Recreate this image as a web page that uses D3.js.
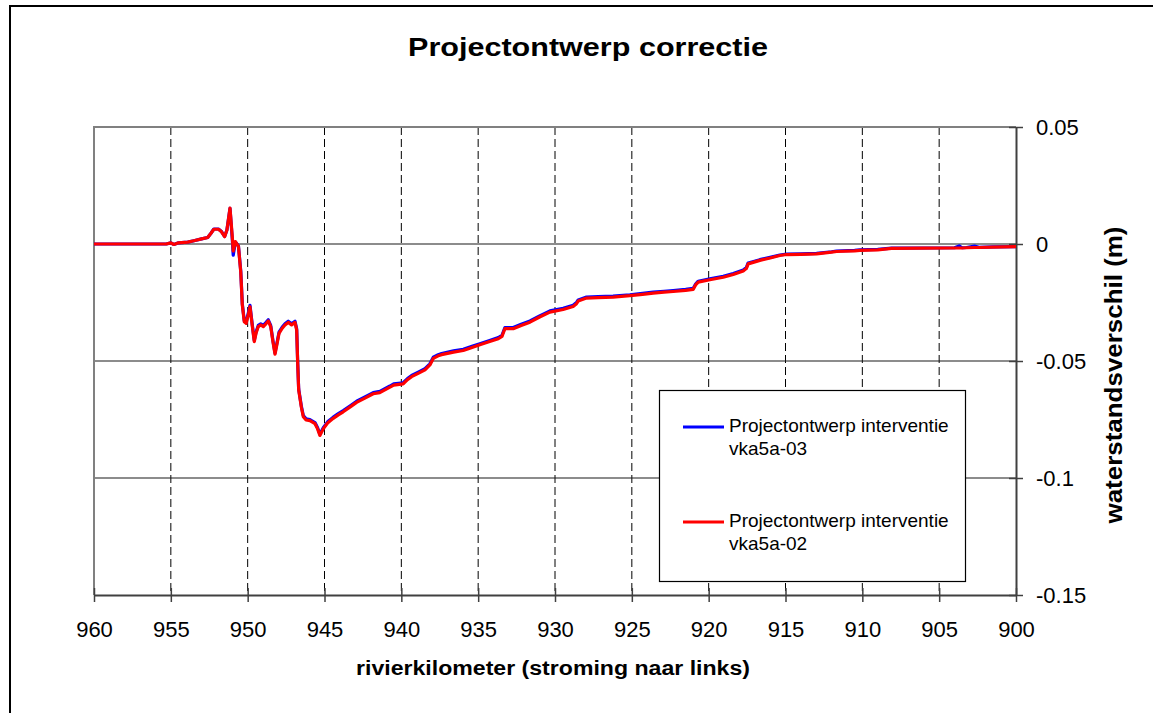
<!DOCTYPE html>
<html>
<head>
<meta charset="utf-8">
<script src="https://cdn.jsdelivr.net/npm/d3@7/dist/d3.min.js"></script>
<style>
  html, body { margin: 0; padding: 0; background: #fff; }
  svg { display: block; font-family: "Liberation Sans", Arial, sans-serif; }
</style>
</head>
<body>
<svg id="chart" width="1153" height="713"></svg>
<script>
// River kilometre positions (shared by both series)
const km = [
  960, 955.3, 955.0, 954.8, 954.5, 953.9, 953.5, 953.0, 952.6, 952.4,
  952.2, 951.9, 951.7, 951.5, 951.35, 951.15, 951.0, 950.94, 950.8, 950.6,
  950.45, 950.35, 950.22, 950.1, 949.95, 949.85, 949.7, 949.57, 949.45, 949.31,
  949.15, 948.98, 948.8, 948.66, 948.5, 948.35, 948.22, 948.1, 947.96, 947.75,
  947.57, 947.36, 947.14, 946.92, 946.81, 946.75, 946.68, 946.5, 946.38, 946.2,
  945.95, 945.62, 945.45, 945.3, 945.08, 944.8, 944.43, 944.1, 943.78, 943.3,
  942.91, 942.4, 941.83, 941.4, 940.74, 940.5, 939.88, 939.6, 939.33, 938.9,
  938.46, 938.14, 937.92, 937.6, 937.38, 936.6, 935.97, 935.4, 934.89, 934.3,
  933.69, 933.45, 933.26, 932.72, 932.2, 931.63, 931.0, 930.33, 929.47, 928.82,
  928.6, 928.49, 927.95, 927.2, 926.22, 925.13, 924.3, 923.61, 922.9, 922.31,
  921.5, 921.01, 920.85, 920.68, 919.92, 919.05, 918.4, 917.75, 917.55, 917.43,
  916.67, 916.0, 915.37, 914.93, 914.0, 912.98, 912.0, 911.68, 910.5, 910.16,
  909.0, 908.1, 906.0, 904.0, 903.7, 903.5, 903.22, 902.7, 902.4, 901.5,
  900.0
];

// Water level difference (m), intervention vka5a-03
const vka5a03 = [
  0, 0, 0.0005, -0.0002, 0.0005, 0.0008, 0.0014, 0.0022, 0.0028, 0.0045,
  0.0064, 0.0064, 0.0053, 0.0032, 0.006, 0.0152, 0.002, -0.0048, 0.0008, -0.0008,
  -0.0115, -0.0255, -0.0328, -0.0335, -0.0292, -0.0262, -0.0345, -0.0412, -0.0375, -0.0348,
  -0.0341, -0.0348, -0.0335, -0.0324, -0.0348, -0.0415, -0.0466, -0.0425, -0.0377, -0.0355,
  -0.0341, -0.033, -0.0341, -0.033, -0.0363, -0.0495, -0.062, -0.0695, -0.0733, -0.0747,
  -0.075, -0.0763, -0.0785, -0.0813, -0.0785, -0.076, -0.074, -0.0725, -0.0712, -0.069,
  -0.0672, -0.0655, -0.0635, -0.063, -0.0607, -0.0598, -0.0593, -0.0575, -0.0562, -0.0548,
  -0.0533, -0.0512, -0.0484, -0.0473, -0.0468, -0.0457, -0.045, -0.0437, -0.0426, -0.0413,
  -0.04, -0.039, -0.0357, -0.0357, -0.0343, -0.0329, -0.0307, -0.0286, -0.0275, -0.0262,
  -0.025, -0.0239, -0.0227, -0.0225, -0.0223, -0.0217, -0.0211, -0.0206, -0.0202, -0.0199,
  -0.0194, -0.019, -0.0171, -0.0159, -0.0149, -0.0138, -0.0126, -0.0111, -0.0101, -0.0081,
  -0.0067, -0.0057, -0.0047, -0.0043, -0.0042, -0.004, -0.0033, -0.003, -0.0027, -0.0025,
  -0.0023, -0.0018, -0.0017, -0.0016, -0.0008, -0.0016, -0.0015, -0.0009, -0.0014, -0.0012,
  -0.0011
];

// Water level difference (m), intervention vka5a-02
const vka5a02 = [
  0, 0, 0.0005, -0.0002, 0.0005, 0.0008, 0.0014, 0.0022, 0.0028, 0.0045,
  0.0063, 0.0063, 0.0052, 0.0031, 0.006, 0.0153, 0.003, -0.003, 0.001, -0.001,
  -0.012, -0.026, -0.0332, -0.0339, -0.03, -0.0268, -0.035, -0.0417, -0.038, -0.0353,
  -0.0346, -0.0353, -0.034, -0.0329, -0.0353, -0.042, -0.0471, -0.043, -0.0382, -0.036,
  -0.0346, -0.0335, -0.0346, -0.0335, -0.0368, -0.05, -0.0624, -0.07, -0.0738, -0.0752,
  -0.0755, -0.0768, -0.079, -0.0818, -0.079, -0.0765, -0.0745, -0.073, -0.0717, -0.0695,
  -0.0677, -0.066, -0.064, -0.0635, -0.0612, -0.0603, -0.0598, -0.058, -0.0567, -0.0553,
  -0.0538, -0.0517, -0.0489, -0.0478, -0.0473, -0.0462, -0.0455, -0.0442, -0.0431, -0.0418,
  -0.0405, -0.0395, -0.0362, -0.0362, -0.0348, -0.0334, -0.0312, -0.0291, -0.028, -0.0267,
  -0.0255, -0.0244, -0.0231, -0.0229, -0.0227, -0.0221, -0.0215, -0.021, -0.0206, -0.0203,
  -0.0198, -0.0194, -0.0175, -0.0163, -0.0153, -0.0142, -0.013, -0.0115, -0.0105, -0.0085,
  -0.007, -0.006, -0.0049, -0.0045, -0.0044, -0.0042, -0.0035, -0.0032, -0.0029, -0.0027,
  -0.0025, -0.0019, -0.0018, -0.0017, -0.0017, -0.0017, -0.0016, -0.0015, -0.0015, -0.0013,
  -0.0011
];

const xTickValues = [960, 955, 950, 945, 940, 935, 930, 925, 920, 915, 910, 905, 900];
const xTickLabels = ["960", "955", "950", "945", "940", "935", "930", "925", "920", "915", "910", "905", "900"];
const yTickValues = [0.05, 0, -0.05, -0.1, -0.15];
const yTickLabels = ["0.05", "0", "-0.05", "-0.1", "-0.15"];

const seriesNames = ["Projectontwerp interventie vka5a-03", "Projectontwerp interventie vka5a-02"];
const seriesColors = ["#0000ff", "#ff0000"];

const svg = d3.select("#chart");
const W = 1153, H = 713;
const plot = { left: 94, right: 1016, top: 127, bottom: 595 };

svg.append("rect").attr("width", W).attr("height", H).attr("fill", "#fff");
// outer frame of the chart object
svg.append("rect")
  .attr("x", 10).attr("y", 6).attr("width", 1170).attr("height", 730)
  .attr("fill", "none").attr("stroke", "#000").attr("stroke-width", 2);

// x runs from upstream (960, left) to downstream (900, right)
const x = d3.scaleLinear().domain([960, 900]).range([plot.left, plot.right]);
const y = d3.scaleLinear().domain([-0.15, 0.05]).range([plot.bottom, plot.top]);

// vertical dashed gridlines
svg.append("g")
  .selectAll("line")
  .data(xTickValues.filter(v => v !== 960 && v !== 900))
  .join("line")
  .attr("x1", d => x(d)).attr("x2", d => x(d))
  .attr("y1", plot.top).attr("y2", plot.bottom)
  .attr("stroke", "#000").attr("stroke-width", 1)
  .attr("stroke-dasharray", "8,4");

// horizontal solid gridlines
svg.append("g")
  .selectAll("line")
  .data(yTickValues.filter(v => v !== 0.05 && v !== -0.15))
  .join("line")
  .attr("x1", plot.left).attr("x2", plot.right)
  .attr("y1", d => y(d)).attr("y2", d => y(d))
  .attr("stroke", "#1a1a1a").attr("stroke-width", 1.2);

// plot area border (top and left)
svg.append("path")
  .attr("d", `M${plot.left},${plot.bottom}V${plot.top}H${plot.right}`)
  .attr("fill", "none").attr("stroke", "#808080").attr("stroke-width", 2);

// bottom axis
const xAxis = svg.append("g")
  .attr("transform", `translate(0,${plot.bottom})`)
  .call(d3.axisBottom(x).tickValues(xTickValues)
    .tickFormat((d, i) => xTickLabels[i]).tickSizeInner(7).tickSizeOuter(0));
xAxis.select(".domain").attr("stroke", "#404040").attr("stroke-width", 2);
xAxis.selectAll(".tick line").attr("y1", -7).attr("y2", 7).attr("stroke", "#404040").attr("stroke-width", 1.5);
xAxis.selectAll(".tick text")
  .attr("y", 42).attr("dy", null)
  .attr("font-size", 22).attr("fill", "#000")
  .attr("font-family", '"Liberation Sans", Arial, sans-serif');

// right value axis
const yAxis = svg.append("g")
  .attr("transform", `translate(${plot.right},0)`)
  .call(d3.axisRight(y).tickValues(yTickValues)
    .tickFormat((d, i) => yTickLabels[i]).tickSizeInner(7).tickSizeOuter(0));
yAxis.select(".domain").attr("stroke", "#404040").attr("stroke-width", 2);
yAxis.selectAll(".tick line").attr("x1", -7).attr("x2", 7).attr("stroke", "#404040").attr("stroke-width", 1.5);
yAxis.selectAll(".tick text")
  .attr("x", 20).attr("dy", "0.35em")
  .attr("font-size", 22).attr("fill", "#000")
  .attr("font-family", '"Liberation Sans", Arial, sans-serif');

// series lines: vka5a-03 first, vka5a-02 on top
const line = d3.line().x(d => x(d[0])).y(d => y(d[1]));
[vka5a03, vka5a02].forEach((vals, s) => {
  svg.append("path")
    .datum(km.map((k, i) => [k, vals[i]]))
    .attr("d", line)
    .attr("fill", "none")
    .attr("stroke", seriesColors[s])
    .attr("stroke-width", 3.2)
    .attr("stroke-linejoin", "round");
});

// legend
const legend = svg.append("g");
legend.append("rect")
  .attr("x", 659.5).attr("y", 390.5).attr("width", 306).attr("height", 191)
  .attr("fill", "#fff").attr("stroke", "#000").attr("stroke-width", 1.2);
const legendRows = [
  { y: 427, lines: ["Projectontwerp interventie", "vka5a-03"] },
  { y: 522, lines: ["Projectontwerp interventie", "vka5a-02"] }
];
legendRows.forEach((row, i) => {
  legend.append("line")
    .attr("x1", 683).attr("x2", 724).attr("y1", row.y).attr("y2", row.y)
    .attr("stroke", seriesColors[i]).attr("stroke-width", 3);
  const t = legend.append("text")
    .attr("x", 729).attr("y", row.y + 4.7)
    .attr("font-size", 19).attr("fill", "#000");
  row.lines.forEach((txt, j) => {
    t.append("tspan").attr("x", 729).attr("dy", j === 0 ? 0 : 23.3).text(txt);
  });
});

// chart title
svg.append("text")
  .attr("x", 588).attr("y", 56)
  .attr("text-anchor", "middle")
  .attr("font-size", 26).attr("font-weight", "bold")
  .attr("textLength", 360).attr("lengthAdjust", "spacingAndGlyphs")
  .text("Projectontwerp correctie");

// axis titles
svg.append("text")
  .attr("x", 553).attr("y", 675)
  .attr("text-anchor", "middle")
  .attr("font-size", 20).attr("font-weight", "bold")
  .attr("textLength", 394).attr("lengthAdjust", "spacingAndGlyphs")
  .text("rivierkilometer (stroming naar links)");

svg.append("text")
  .attr("transform", "translate(1122,375) rotate(-90)")
  .attr("text-anchor", "middle")
  .attr("font-size", 23).attr("font-weight", "bold")
  .attr("textLength", 297).attr("lengthAdjust", "spacingAndGlyphs")
  .text("waterstandsverschil (m)");
</script>
</body>
</html>
